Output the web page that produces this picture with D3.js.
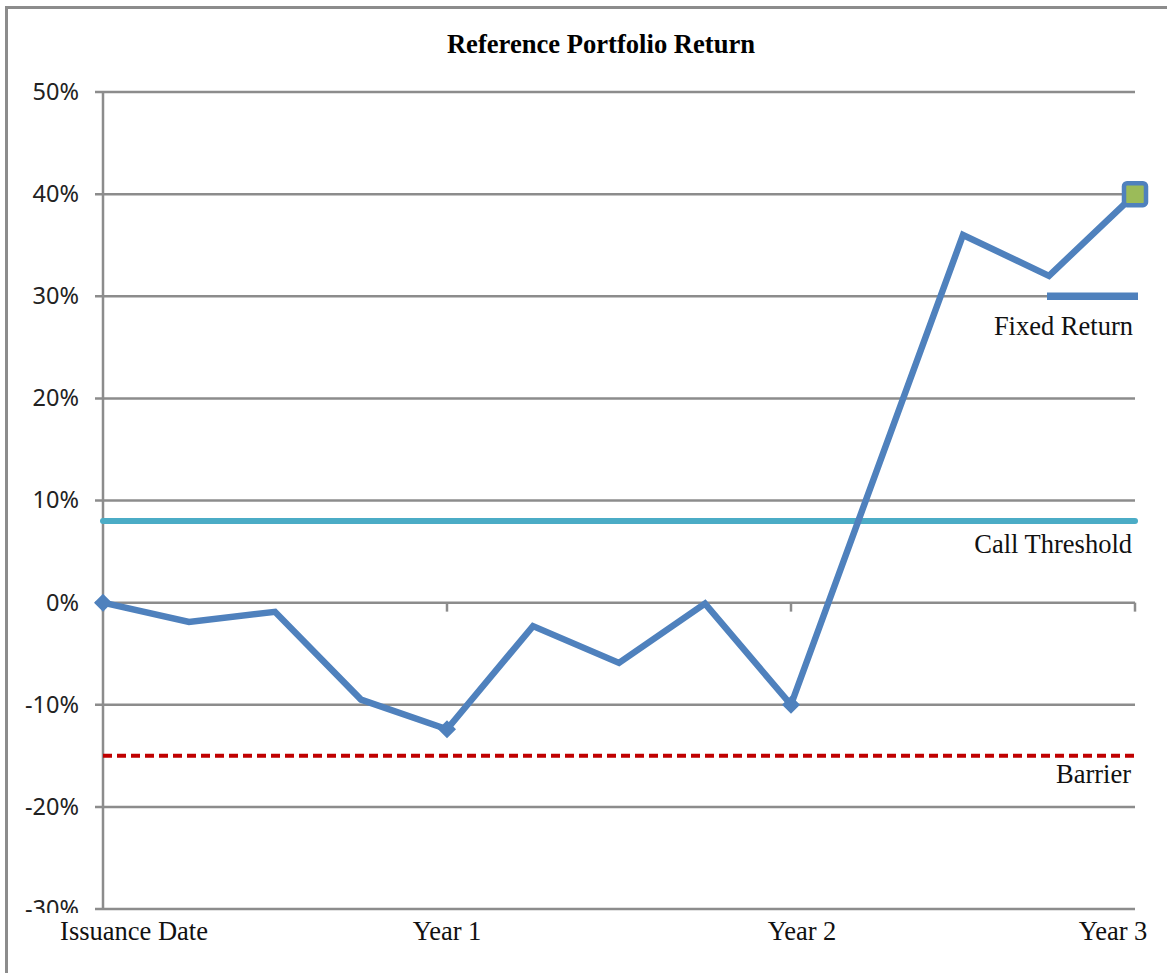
<!DOCTYPE html>
<html>
<head>
<meta charset="utf-8">
<script src="https://cdn.jsdelivr.net/npm/d3@7"></script>
<style>
  body { margin: 0; background: #fff; }
  svg { display: block; }
</style>
</head>
<body>
<div id="content"></div>
<script>
// quarterly points, 0 = issuance, 12 = year 3
var quarters = [0, 1, 2, 3, 4, 5, 6, 7, 8, 9, 10, 11, 12];
var returns = [0, -1.9, -0.9, -9.5, -12.4, -2.3, -5.9, -0.1, -10, 13, 36, 32, 40];
var yTicks = [50, 40, 30, 20, 10, 0, -10, -20, -30];
var xLabels = [
  {q: 0, text: "Issuance Date"},
  {q: 4, text: "Year 1"},
  {q: 8, text: "Year 2"},
  {q: 12, text: "Year 3"}
];
var callThreshold = 8;
var barrier = -15;
var fixedReturn = 30;
var fixedReturnFrom = 11;
var diamondAt = [0, 4, 8];

var W = 1167, H = 973;
var margin = {top: 92, right: 32, bottom: 64, left: 103},
  width = W - margin.left - margin.right,
  height = H - margin.top - margin.bottom;

var serif = "'Liberation Serif', 'Times New Roman', serif";

var svgRoot = d3.select("div#content").append("svg")
  .attr("width", W)
  .attr("height", H);

// outer frame
svgRoot.append("rect")
  .attr("x", 6.5).attr("y", 7.5)
  .attr("width", W + 10).attr("height", H + 10)
  .attr("fill", "#fff")
  .attr("stroke", "#8c8c8c")
  .attr("stroke-width", 3);

svgRoot.append("text")
  .attr("x", 601).attr("y", 53)
  .attr("text-anchor", "middle")
  .style("font-family", serif)
  .style("font-weight", "bold")
  .style("font-size", "26.6px")
  .text("Reference Portfolio Return");

var svg = svgRoot.append("g")
  .attr("transform", "translate(" + margin.left + "," + margin.top + ")");

var x = d3.scaleLinear().domain([0, 12]).range([0, width]);
var y = d3.scaleLinear().domain([-30, 50]).range([height, 0]);

var gridColor = "#8c8c8c";

// horizontal gridlines
svg.selectAll(".grid")
  .data(yTicks)
  .enter().append("line")
  .attr("class", "grid")
  .attr("x1", -8)
  .attr("x2", width)
  .attr("y1", function(d) { return y(d); })
  .attr("y2", function(d) { return y(d); })
  .attr("stroke", gridColor)
  .attr("stroke-width", 2.5);

// vertical axis line
svg.append("line")
  .attr("x1", 0).attr("x2", 0)
  .attr("y1", y(50)).attr("y2", y(-30))
  .attr("stroke", gridColor)
  .attr("stroke-width", 2.5);

// tick marks on the 0% axis
svg.selectAll(".xtick")
  .data(xLabels)
  .enter().append("line")
  .attr("class", "xtick")
  .attr("x1", function(d) { return x(d.q); })
  .attr("x2", function(d) { return x(d.q); })
  .attr("y1", y(0))
  .attr("y2", y(0) + 9)
  .attr("stroke", gridColor)
  .attr("stroke-width", 2.5);

// y tick labels, clipped at the bottom like the original
svgRoot.append("clipPath").attr("id", "ylabClip")
  .append("rect").attr("x", 0).attr("y", 0).attr("width", margin.left).attr("height", 913);

svgRoot.append("g")
  .attr("clip-path", "url(#ylabClip)")
  .selectAll("text")
  .data(yTicks)
  .enter().append("text")
  .attr("x", 79)
  .attr("y", function(d) { return margin.top + y(d); })
  .attr("dy", "0.34em")
  .attr("text-anchor", "end")
  .attr("fill", "#222")
  .style("font-family", "'Noto Sans', 'Open Sans', sans-serif")
  .style("font-size", "23.5px")
  .text(function(d) { return d + "%"; });

// x labels (first and last pulled inward as in the original)
var labelShift = {0: 31, 4: 0, 8: 11, 12: -22};
svg.selectAll(".xlab")
  .data(xLabels)
  .enter().append("text")
  .attr("class", "xlab")
  .attr("x", function(d) { return x(d.q) + labelShift[d.q]; })
  .attr("y", 940 - margin.top)
  .attr("text-anchor", "middle")
  .attr("fill", "#111")
  .style("font-family", serif)
  .style("font-size", "26.5px")
  .text(function(d) { return d.text; });

// barrier
svg.append("line")
  .attr("x1", 0).attr("x2", width)
  .attr("y1", y(barrier)).attr("y2", y(barrier))
  .attr("stroke", "#c00000")
  .attr("stroke-width", 4)
  .attr("stroke-dasharray", "9,5");

svg.append("text")
  .attr("x", width - 4).attr("y", 783 - margin.top)
  .attr("text-anchor", "end")
  .style("font-family", serif).style("font-size", "26.5px")
  .attr("fill", "#111")
  .text("Barrier");

// call threshold
svg.append("line")
  .attr("x1", 0).attr("x2", width)
  .attr("y1", y(callThreshold)).attr("y2", y(callThreshold))
  .attr("stroke", "#4bacc6")
  .attr("stroke-width", 6)
  .attr("stroke-linecap", "round");

svg.append("text")
  .attr("x", width - 3).attr("y", 553 - margin.top)
  .attr("text-anchor", "end")
  .style("font-family", serif).style("font-size", "26.5px")
  .attr("fill", "#111")
  .text("Call Threshold");

// fixed return
svg.append("line")
  .attr("x1", x(fixedReturnFrom) - 2).attr("x2", x(12) + 3)
  .attr("y1", y(fixedReturn)).attr("y2", y(fixedReturn))
  .attr("stroke", "#4f81bd")
  .attr("stroke-width", 7.5);

svg.append("text")
  .attr("x", width - 2).attr("y", 335 - margin.top)
  .attr("text-anchor", "end")
  .style("font-family", serif).style("font-size", "26.5px")
  .attr("fill", "#111")
  .text("Fixed Return");

// portfolio line
var valueline = d3.line()
  .x(function(d, i) { return x(quarters[i]); })
  .y(function(d) { return y(d); });

svg.append("path")
  .datum(returns)
  .attr("d", valueline)
  .attr("fill", "none")
  .attr("stroke", "#4f81bd")
  .attr("stroke-width", 6.5)
  .attr("stroke-linejoin", "miter");

svg.selectAll(".diamond")
  .data(diamondAt)
  .enter().append("path")
  .attr("class", "diamond")
  .attr("transform", function(q) { return "translate(" + x(q) + "," + y(returns[q]) + ")"; })
  .attr("d", "M0,-9L9,0L0,9L-9,0Z")
  .attr("fill", "#4f81bd");

var last = returns.length - 1;
svg.append("rect")
  .attr("x", x(quarters[last]) - 11)
  .attr("y", y(returns[last]) - 11)
  .attr("width", 22).attr("height", 22)
  .attr("rx", 3)
  .attr("fill", "#9bbb59")
  .attr("stroke", "#4f81bd")
  .attr("stroke-width", 4.5);
</script>
</body>
</html>
